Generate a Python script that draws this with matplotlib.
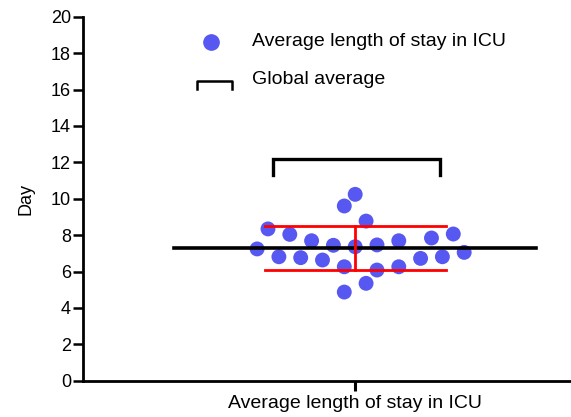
import numpy as np
import matplotlib
matplotlib.use("Agg")
import matplotlib.pyplot as plt

plt.rcParams['font.family'] = ['Liberation Sans', 'DejaVu Sans']

# DATA
# length of stay (days) for each point, with its horizontal swarm slot
stay_days = [7.24, 8.34, 6.81, 8.04, 6.76, 7.69, 6.63, 7.44, 9.60, 6.26, 4.87,
             10.24, 7.36, 8.77, 5.35, 7.46, 6.08, 7.69, 6.26, 6.72, 7.84, 6.81,
             8.06, 7.05]
swarm_slot = [-9, -8, -7, -6, -5, -4, -3, -2, -1, -1, -1,
              0, 0, 1, 1, 2, 2, 4, 4, 6, 7, 8,
              9, 10]
category = "Average length of stay in ICU"
global_avg_bracket = 12.2
y_ticks = [0, 2, 4, 6, 8, 10, 12, 14, 16, 18, 20]

BLUE = "#5757F2"
RED = "#FF0000"

mean = np.mean(stay_days)
sd = np.std(stay_days, ddof=1)

fig = plt.figure(figsize=(5.71, 4.17), dpi=100)
ax = fig.add_axes([82.7 / 571, 36.3 / 417, 1 - 82.7 / 571, 364 / 417])

# points
ax.scatter(swarm_slot, stay_days, s=115, color=BLUE, edgecolors="none", zorder=3)

# global mean line
ax.plot([-16.6, 16.6], [mean, mean], color="black", lw=2.6, zorder=4)

# mean +/- SD in red
ax.plot([-8.3, 8.3], [mean + sd, mean + sd], color=RED, lw=2, zorder=5)
ax.plot([-8.3, 8.3], [mean - sd, mean - sd], color=RED, lw=2, zorder=5)
ax.plot([0, 0], [mean - sd, mean + sd], color=RED, lw=2, zorder=5)

# bracket for global average
ax.plot([-7.5, -7.5, 7.8, 7.8],
        [global_avg_bracket - 0.9, global_avg_bracket, global_avg_bracket, global_avg_bracket - 0.9],
        color="black", lw=2.4, solid_joinstyle="miter", zorder=4)

ax.set_xlim(-25, 19.8)
ax.set_ylim(0, 20)
ax.set_yticks(y_ticks)
ax.set_xticks([0])
ax.set_xticklabels([category])
ax.set_ylabel("Day", fontsize=13, labelpad=12)

for s in ["top", "right"]:
    ax.spines[s].set_visible(False)
ax.spines["left"].set_linewidth(2)
ax.spines["bottom"].set_linewidth(2)
ax.tick_params(axis="y", length=7, width=1.8, labelsize=13, pad=1.5)
ax.tick_params(axis="x", length=7, width=2.2, labelsize=14, pad=3)

# legend drawn by hand
ax.plot([211 / 571], [1 - 41.7 / 417], marker="o", ms=11, color=BLUE, ls="none",
        transform=fig.transFigure, clip_on=False)
fig.text(252 / 571, 1 - 46 / 417, category, fontsize=14, va="baseline")
ax.plot([197 / 571, 197 / 571, 232 / 571, 232 / 571],
        [1 - 89 / 417, 1 - 81 / 417, 1 - 81 / 417, 1 - 89 / 417],
        color="black", lw=1.8, transform=fig.transFigure, clip_on=False)
fig.text(252 / 571, 1 - 84 / 417, "Global average", fontsize=14, va="baseline")

fig.savefig("out.png", dpi=100)
